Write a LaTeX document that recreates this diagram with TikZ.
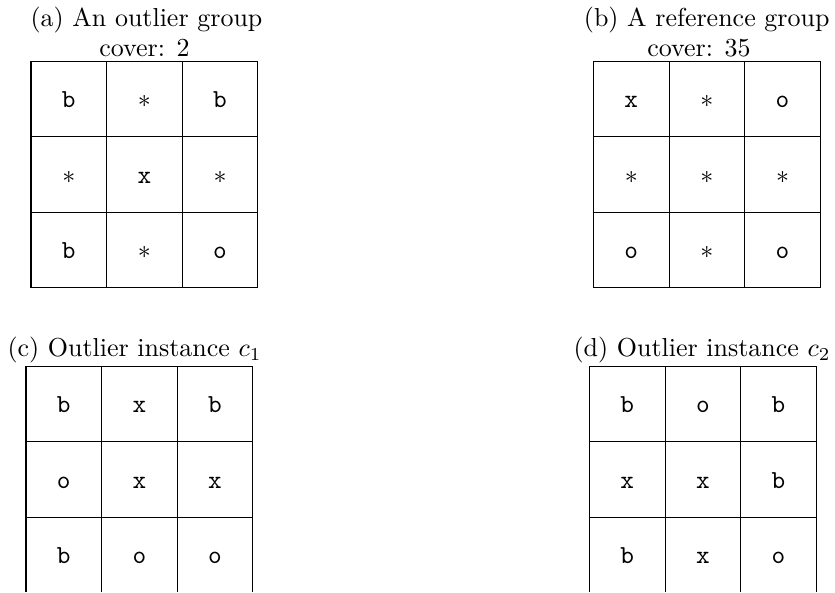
\documentclass[tikz,border=0pt]{standalone}
\begin{document}
\begin{tikzpicture}[x=0.385pt,y=-0.385pt,
  cellbox/.style={draw, line width=0.4pt, minimum width=29.1pt, minimum height=29.1pt,
    inner sep=0pt, text height=6.85pt, text depth=0pt, font=\ttfamily},
  caption/.style={anchor=base, inner sep=0pt}]
  \useasboundingbox (0,0) rectangle (835,592);
  % the lower grids run past the bottom edge of the page
  \clip (-5,-5) rectangle (840,591);
  \def\cs{75.6}

  % (a) outlier group
  \node[caption] (capa) at (146.5,26.7) {(a) An outlier group};
  \node[caption] (cova) at (144.5,56) {cover: 2};
  \foreach \t [count=\i from 0] in {b,$*$,b,$*$,x,$*$,b,$*$,o} {
    \pgfmathsetmacro\row{int(\i/3)}
    \pgfmathsetmacro\col{mod(\i,3)}
    \node[cellbox] (a\i) at ({31+(\col+0.5)*\cs},{61+(\row+0.5)*\cs}) {\t};
  }

  % (b) reference group
  \node[caption] (capb) at (706.7,26.7) {(b) A reference group};
  \node[caption] (covb) at (699,56) {cover: 35};
  \foreach \t [count=\i from 0] in {x,$*$,o,$*$,$*$,$*$,o,$*$,o} {
    \pgfmathsetmacro\row{int(\i/3)}
    \pgfmathsetmacro\col{mod(\i,3)}
    \node[cellbox] (b\i) at ({593.5+(\col+0.5)*\cs},{61+(\row+0.5)*\cs}) {\t};
  }

  % (c) outlier instance c1
  \node[caption] (capc) at (134.5,356.7) {(c) Outlier instance $c_1$};
  \foreach \t [count=\i from 0] in {b,x,b,o,x,x,b,o,o} {
    \pgfmathsetmacro\row{int(\i/3)}
    \pgfmathsetmacro\col{mod(\i,3)}
    \node[cellbox] (c\i) at ({26+(\col+0.5)*\cs},{366+(\row+0.5)*\cs}) {\t};
  }

  % (d) outlier instance c2
  \node[caption] (capd) at (702,356.7) {(d) Outlier instance $c_2$};
  \foreach \t [count=\i from 0] in {b,o,b,x,x,b,b,x,o} {
    \pgfmathsetmacro\row{int(\i/3)}
    \pgfmathsetmacro\col{mod(\i,3)}
    \node[cellbox] (d\i) at ({589.5+(\col+0.5)*\cs},{366+(\row+0.5)*\cs}) {\t};
  }
\end{tikzpicture}
\end{document}
